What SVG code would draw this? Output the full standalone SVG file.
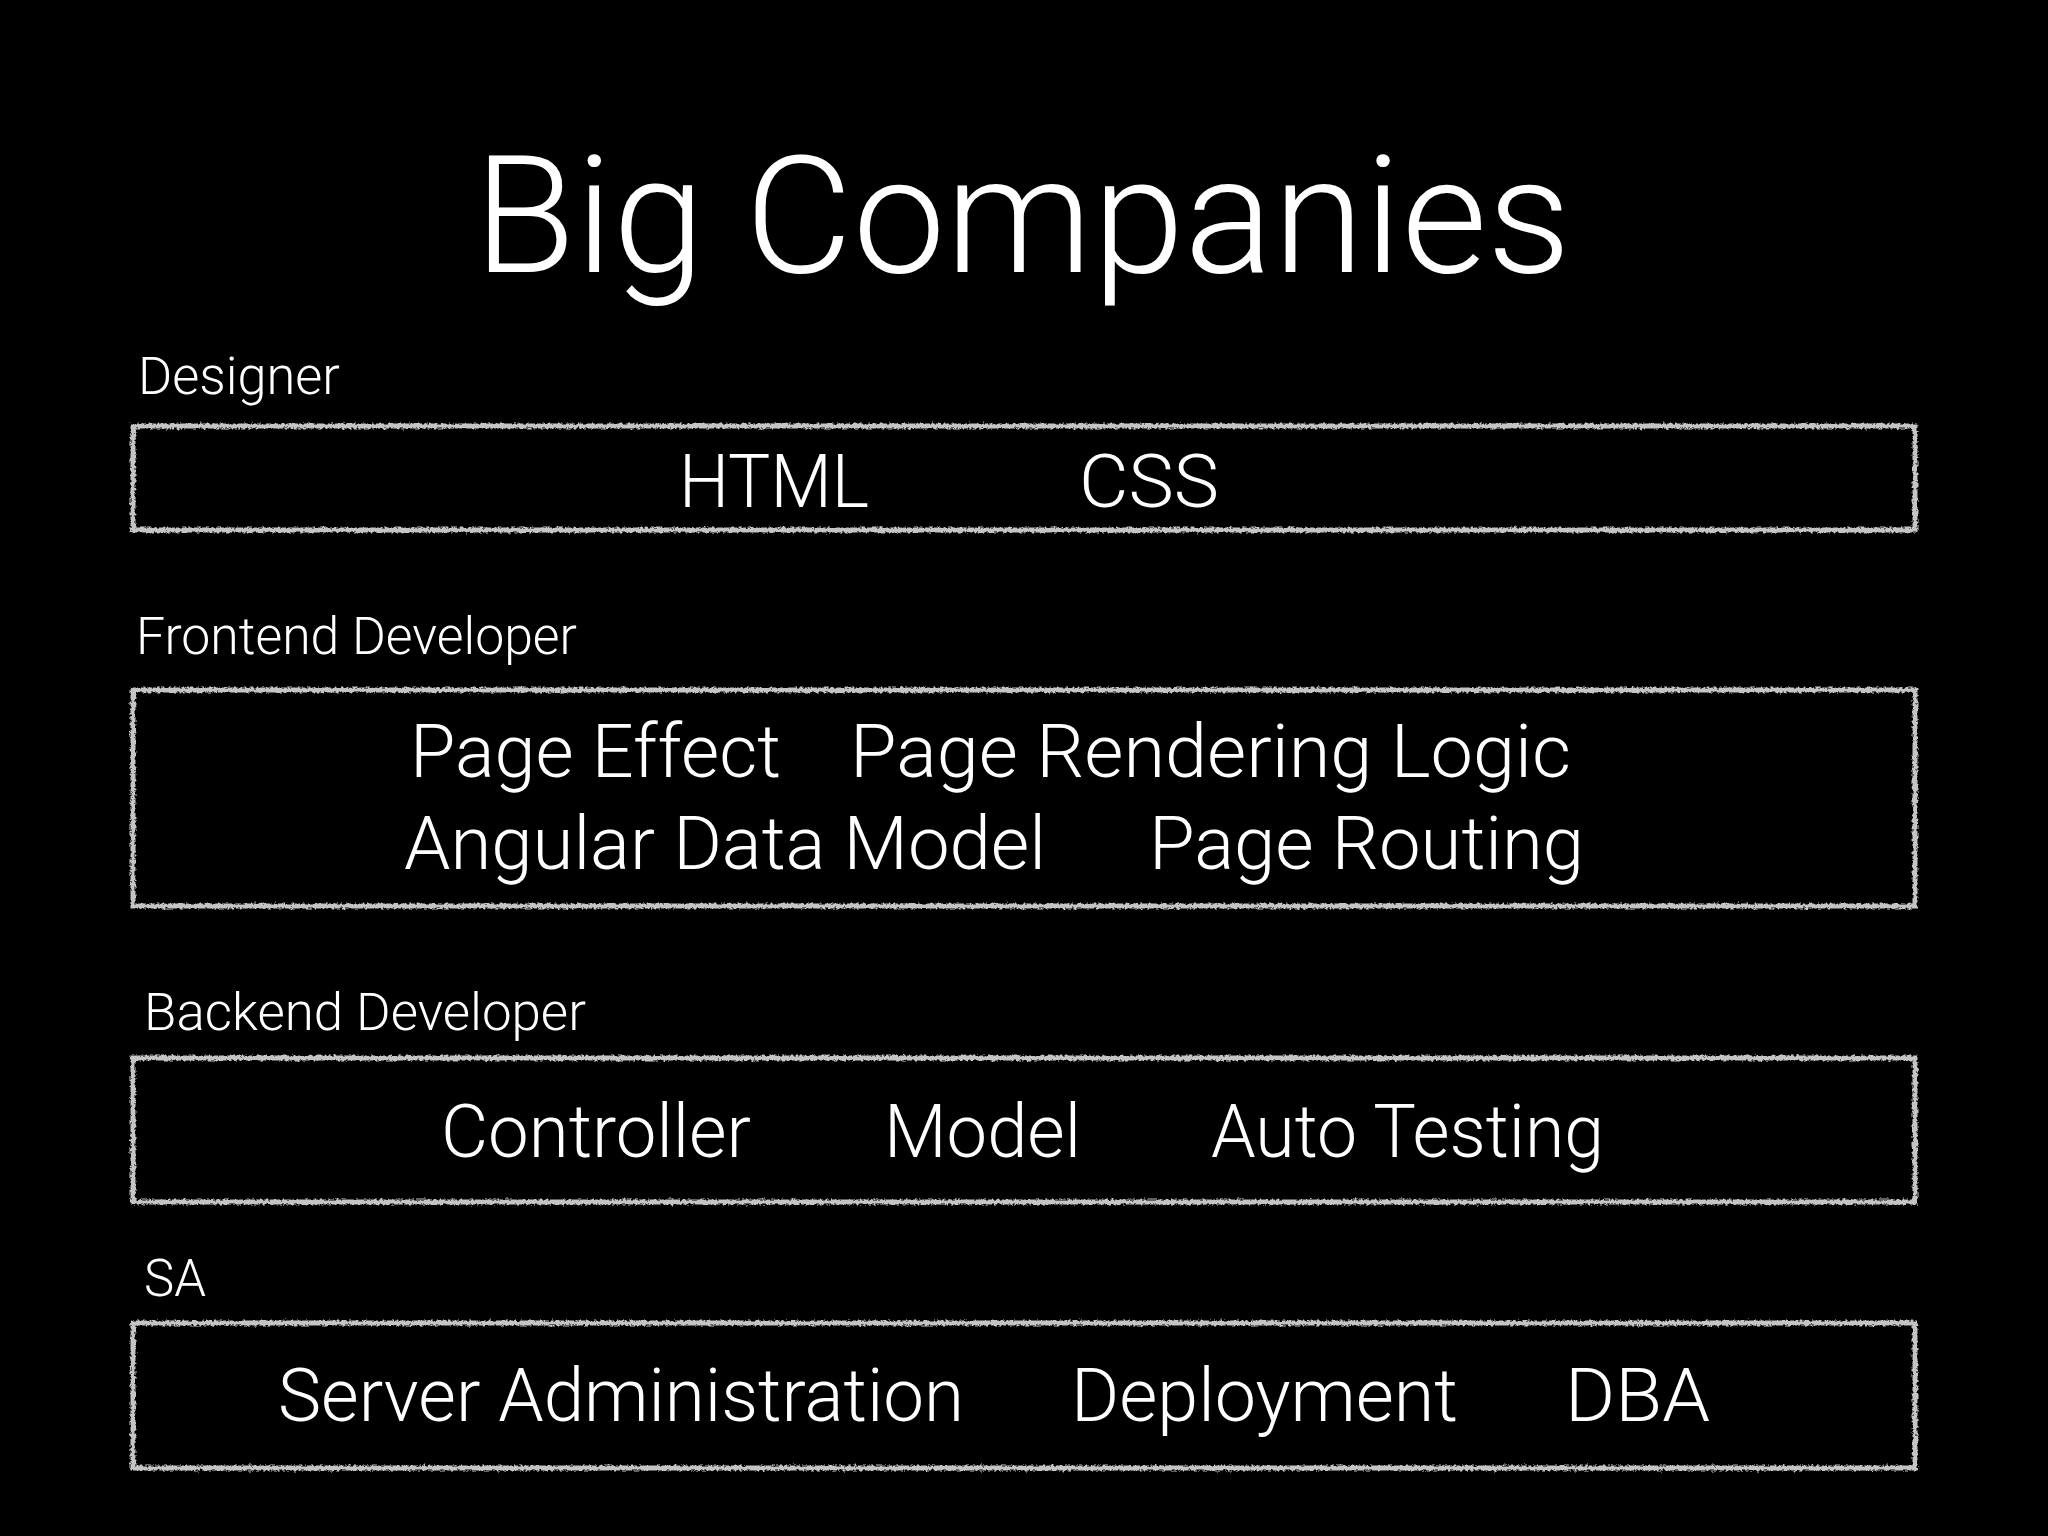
<svg xmlns="http://www.w3.org/2000/svg" width="2048" height="1536" viewBox="0 0 2048 1536">
  <defs>
    <filter id="chalk" x="-5%" y="-20%" width="110%" height="140%">
      <feTurbulence type="fractalNoise" baseFrequency="0.35" numOctaves="2" seed="3" result="n"/>
      <feDisplacementMap in="SourceGraphic" in2="n" scale="5" xChannelSelector="R" yChannelSelector="G"/>
    </filter>
  </defs>
  <style>
    .bg { fill: #000; }
    .title { font-family: Roboto, "Liberation Sans", sans-serif; font-weight: 300; font-size: 164px; fill: #fff; }
    .label { font-family: Roboto, "Liberation Sans", sans-serif; font-weight: 300; font-size: 51px; fill: #fff; }
    .item { font-family: Roboto, "Liberation Sans", sans-serif; font-weight: 300; font-size: 75px; fill: #fff; }
    .box { fill: none; stroke: #c4c4c4; stroke-width: 5; filter: url(#chalk); }
  </style>
  <rect class="bg" x="0" y="0" width="2048" height="1536"/>
  <text id="title" class="title" x="474" y="272" textLength="1097" lengthAdjust="spacingAndGlyphs">Big Companies</text>

  <g id="designer">
    <text class="label" x="138" y="394" textLength="202" lengthAdjust="spacingAndGlyphs">Designer</text>
    <rect class="box" x="133" y="426" width="1782" height="104"/>
    <text class="item" x="679" y="507" textLength="190" lengthAdjust="spacingAndGlyphs">HTML</text>
    <text class="item" x="1079" y="507" textLength="140" lengthAdjust="spacingAndGlyphs">CSS</text>
  </g>

  <g id="frontend">
    <text class="label" x="136" y="654" textLength="441" lengthAdjust="spacingAndGlyphs">Frontend Developer</text>
    <rect class="box" x="133" y="690" width="1782" height="216"/>
    <text class="item" x="410" y="777" textLength="371" lengthAdjust="spacingAndGlyphs">Page Effect</text>
    <text class="item" x="850" y="777" textLength="721" lengthAdjust="spacingAndGlyphs">Page Rendering Logic</text>
    <text class="item" x="404" y="869" textLength="642" lengthAdjust="spacingAndGlyphs">Angular Data Model</text>
    <text class="item" x="1149" y="869" textLength="435" lengthAdjust="spacingAndGlyphs">Page Routing</text>
  </g>

  <g id="backend">
    <text class="label" x="144" y="1030" textLength="442" lengthAdjust="spacingAndGlyphs">Backend Developer</text>
    <rect class="box" x="133" y="1058" width="1782" height="144"/>
    <text class="item" x="441" y="1157" textLength="310" lengthAdjust="spacingAndGlyphs">Controller</text>
    <text class="item" x="884" y="1157" textLength="197" lengthAdjust="spacingAndGlyphs">Model</text>
    <text class="item" x="1211" y="1157" textLength="393" lengthAdjust="spacingAndGlyphs">Auto Testing</text>
  </g>

  <g id="sa">
    <text class="label" x="144" y="1296" textLength="62" lengthAdjust="spacingAndGlyphs">SA</text>
    <rect class="box" x="133" y="1323" width="1782" height="145"/>
    <text class="item" x="278" y="1421" textLength="686" lengthAdjust="spacingAndGlyphs">Server Administration</text>
    <text class="item" x="1071" y="1421" textLength="387" lengthAdjust="spacingAndGlyphs">Deployment</text>
    <text class="item" x="1565" y="1421" textLength="145" lengthAdjust="spacingAndGlyphs">DBA</text>
  </g>

  <g id="connectors"/>
</svg>
